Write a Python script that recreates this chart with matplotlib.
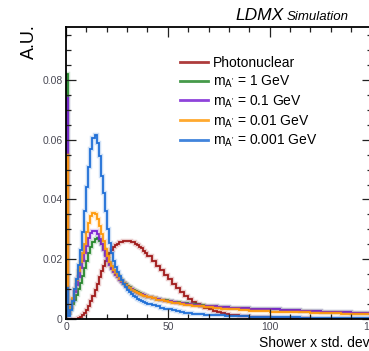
import numpy as np
import matplotlib
matplotlib.use("Agg")
import matplotlib.pyplot as plt
from matplotlib.ticker import MultipleLocator, FuncFormatter

plt.rcParams['font.family'] = ['Liberation Sans', 'DejaVu Sans']
plt.rcParams['mathtext.fontset'] = 'custom'
plt.rcParams['mathtext.rm'] = 'Liberation Sans'
plt.rcParams['mathtext.it'] = 'Liberation Sans:italic'

# Bin edges: 1 mm bins up to 40, 2 mm bins up to 80, 5 mm bins up to 150
edges = list(range(0, 40)) + list(range(40, 80, 2)) + list(range(80, 155, 5))

photonuclear = [
    0, 0, 0, 0, 0, 0, 0.0003, 0.0007, 0.0013, 0.002,
    0.003, 0.0045, 0.006, 0.0077, 0.0097, 0.0118, 0.014, 0.016, 0.0178, 0.0195,
    0.021, 0.0222, 0.0232, 0.024, 0.0247, 0.0252, 0.0256, 0.0259, 0.0261, 0.0262,
    0.0262, 0.0261, 0.0259, 0.0256, 0.0252, 0.0247, 0.0242, 0.0236, 0.0229, 0.0222,
    0.021, 0.0194, 0.0178, 0.0163, 0.0148, 0.0133, 0.0118, 0.0104, 0.009, 0.0077,
    0.0066, 0.0057, 0.0050, 0.0043, 0.0037, 0.0032, 0.0027, 0.0023, 0.002, 0.0017,
    0.0015, 0.0011, 0.0008, 0.0006, 0.0004, 0.0003, 0.0002, 0.0002, 0.0001, 0.0001,
    0.0001, 0.0001, 0.0, 0.0,
]

m_1gev = [
    0.082, 0.002, 0.0035, 0.005, 0.0065, 0.008, 0.010, 0.012, 0.0145, 0.017,
    0.0195, 0.022, 0.024, 0.0258, 0.0268, 0.027, 0.0262, 0.025, 0.0234, 0.0217,
    0.020, 0.0185, 0.0172, 0.016, 0.0151, 0.0143, 0.0135, 0.0128, 0.0122, 0.0116,
    0.0111, 0.0106, 0.0101, 0.0097, 0.0093, 0.0089, 0.0086, 0.0083, 0.0080, 0.0078,
    0.0075, 0.0071, 0.0068, 0.0065, 0.0062, 0.0060, 0.0058, 0.0056, 0.0054, 0.0052,
    0.0050, 0.0049, 0.0047, 0.0046, 0.0045, 0.0044, 0.0042, 0.0041, 0.0040, 0.0039,
    0.0038, 0.0036, 0.0035, 0.0033, 0.0032, 0.0030, 0.0029, 0.0028, 0.0026, 0.0025,
    0.0024, 0.0022, 0.0021, 0.0020,
]

m_01gev = [
    0.074, 0.002, 0.004, 0.0065, 0.009, 0.0115, 0.014, 0.017, 0.0195, 0.022,
    0.0245, 0.027, 0.0288, 0.0296, 0.0294, 0.0283, 0.0268, 0.025, 0.023, 0.0212,
    0.0195, 0.018, 0.0167, 0.0156, 0.0147, 0.0139, 0.0131, 0.0125, 0.0119, 0.0113,
    0.0108, 0.0103, 0.0099, 0.0095, 0.0091, 0.0088, 0.0085, 0.0082, 0.0079, 0.0077,
    0.0075, 0.0071, 0.0067, 0.0064, 0.0061, 0.0059, 0.0057, 0.0055, 0.0053, 0.0051,
    0.0050, 0.0048, 0.0047, 0.0045, 0.0044, 0.0043, 0.0042, 0.0041, 0.0040, 0.0039,
    0.0038, 0.0036, 0.0034, 0.0033, 0.0032, 0.0030, 0.0029, 0.0027, 0.0026, 0.0025,
    0.0024, 0.0022, 0.0021, 0.0020,
]

m_001gev = [
    0.055, 0.002, 0.004, 0.007, 0.010, 0.013, 0.016, 0.019, 0.022, 0.025,
    0.029, 0.032, 0.0345, 0.0356, 0.035, 0.0335, 0.031, 0.0285, 0.026, 0.0235,
    0.0212, 0.0192, 0.0177, 0.0163, 0.0153, 0.0144, 0.0135, 0.0127, 0.012, 0.0114,
    0.0108, 0.0103, 0.0098, 0.0094, 0.0090, 0.0087, 0.0084, 0.0081, 0.0078, 0.0076,
    0.0073, 0.0069, 0.0065, 0.0062, 0.0059, 0.0056, 0.0054, 0.0052, 0.0050, 0.0048,
    0.0046, 0.0045, 0.0043, 0.0042, 0.0040, 0.0039, 0.0037, 0.0036, 0.0035, 0.0034,
    0.0032, 0.0030, 0.0028, 0.0026, 0.0025, 0.0024, 0.0023, 0.0022, 0.0021, 0.0020,
    0.0019, 0.0018, 0.0017, 0.0016,
]

m_0001gev = [
    0.0105, 0.001, 0.003, 0.006, 0.010, 0.0135, 0.018, 0.023, 0.029, 0.036,
    0.044, 0.051, 0.057, 0.0605, 0.0616, 0.059, 0.0545, 0.048, 0.042, 0.036,
    0.030, 0.0255, 0.022, 0.0195, 0.0175, 0.0158, 0.0143, 0.013, 0.0118, 0.0107,
    0.0098, 0.009, 0.0084, 0.0078, 0.0073, 0.0068, 0.0064, 0.006, 0.0057, 0.0054,
    0.0050, 0.0046, 0.0042, 0.0038, 0.0035, 0.0032, 0.0029, 0.0026, 0.0024, 0.0021,
    0.0019, 0.0018, 0.0017, 0.0016, 0.0015, 0.0014, 0.0013, 0.0012, 0.0012, 0.0011,
    0.0010, 0.0009, 0.0008, 0.0007, 0.0007, 0.0006, 0.0006, 0.0005, 0.0005, 0.0004,
    0.0004, 0.0004, 0.0003, 0.0003,
]

series = [
    ("Photonuclear", photonuclear, "#a01a1a"),
    (r"m$_{\mathrm{A'}}$ = 1 GeV", m_1gev, "#25882a"),
    (r"m$_{\mathrm{A'}}$ = 0.1 GeV", m_01gev, "#7b22d4"),
    (r"m$_{\mathrm{A'}}$ = 0.01 GeV", m_001gev, "#ff9a0a"),
    (r"m$_{\mathrm{A'}}$ = 0.001 GeV", m_0001gev, "#1f6fd6"),
]

W, H = 369, 351
fig = plt.figure(figsize=(W / 100, H / 100), dpi=100)
ax = fig.add_axes([66 / W, (H - 319) / H, (371.5 - 66) / W, (319 - 27) / H])

for label, vals, color in series:
    ax.stairs(vals, edges, color=color, lw=3.2, alpha=0.22)
    ax.stairs(vals, edges, color=color, lw=1.3, label=label)

ax.set_xlim(0, 150)
ax.set_ylim(0, 0.0977)

ax.xaxis.set_major_locator(MultipleLocator(50))
ax.xaxis.set_minor_locator(MultipleLocator(10))
ax.yaxis.set_major_locator(MultipleLocator(0.02))
ax.yaxis.set_minor_locator(MultipleLocator(0.005))
ax.yaxis.set_major_formatter(FuncFormatter(lambda v, p: "0" if abs(v) < 1e-9 else f"{v:.2f}"))
ax.xaxis.set_major_formatter(FuncFormatter(lambda v, p: f"{v:.0f}"))
ax.tick_params(which="both", direction="in", top=True, right=True, width=0.9,
               colors="#222222", labelcolor="#4a4a55")
ax.tick_params(which="major", length=7.5, labelsize=7.5, pad=2.5)
ax.tick_params(which="minor", length=3.8)
for s in ax.spines.values():
    s.set_linewidth(1.3)

leg = ax.legend(loc="upper left", bbox_to_anchor=((180 - 66) / 305.5, (319 - 56) / 292),
                frameon=False, fontsize=10, handlelength=2.0, handletextpad=0.4,
                labelspacing=0.25, borderpad=0, borderaxespad=0)
for line in leg.get_lines():
    line.set_linewidth(2.0)
    line.set_alpha(0.85)

fig.text(29 / W, 1 - 24 / H, "A.U.", rotation=90, ha="center", va="top", fontsize=13)
fig.text(259 / W, 1 - 347 / H, "Shower x std. deviation [mm]", ha="left",
         va="baseline", fontsize=10)
fig.text(235 / W, 1 - 20 / H, "LDMX", fontsize=12.5, style="italic", va="baseline")
fig.text(287 / W, 1 - 20 / H, "Simulation", fontsize=9.5, style="italic", va="baseline")

fig.savefig("out.png", dpi=100)
